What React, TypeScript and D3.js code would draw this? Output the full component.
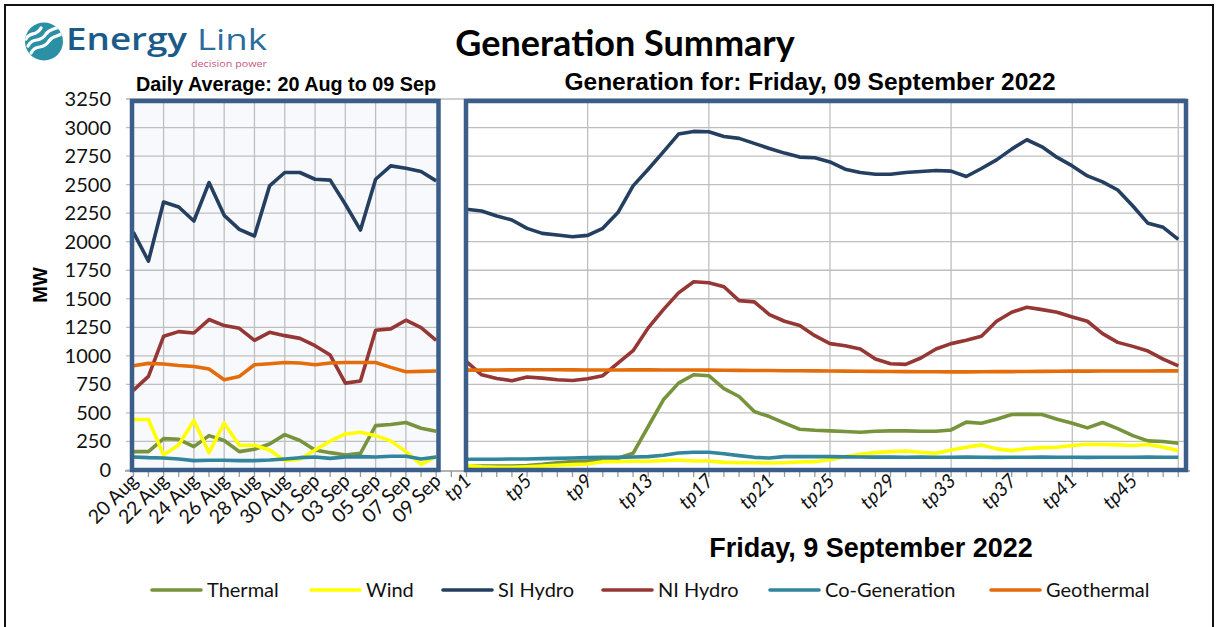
import React from "react";
import * as d3 from "d3";

// daily averages, 20 Aug .. 09 Sep
const days = [
  "20 Aug", "21 Aug", "22 Aug", "23 Aug", "24 Aug", "25 Aug", "26 Aug",
  "27 Aug", "28 Aug", "29 Aug", "30 Aug", "31 Aug", "01 Sep", "02 Sep",
  "03 Sep", "04 Sep", "05 Sep", "06 Sep", "07 Sep", "08 Sep", "09 Sep",
];
const periods = Array.from({ length: 48 }, (_, i) => `tp${i + 1}`);
const categories = [...days, "gap", ...periods];

const yTicks = [0, 250, 500, 750, 1000, 1250, 1500, 1750, 2000, 2250, 2500, 2750, 3000, 3250];

const dailyThermal = [161, 161, 275, 269, 205, 301, 258, 161, 182, 228, 310, 258, 176, 152, 132, 146, 389, 398, 416, 366, 340];
const dailyWind = [442, 442, 132, 220, 433, 152, 410, 217, 217, 176, 82, 94, 176, 252, 316, 331, 301, 255, 161, 50, 117];
const dailySIHydro = [2084, 1830, 2348, 2304, 2181, 2518, 2231, 2108, 2050, 2489, 2606, 2606, 2547, 2539, 2328, 2102, 2547, 2664, 2644, 2615, 2533];
const dailyNIHydro = [697, 820, 1171, 1212, 1200, 1318, 1265, 1241, 1136, 1206, 1177, 1153, 1089, 1007, 761, 779, 1224, 1236, 1312, 1247, 1136];
const dailyCoGen = [114, 108, 105, 97, 82, 85, 85, 82, 82, 88, 97, 108, 114, 102, 114, 117, 114, 120, 120, 97, 114];
const dailyGeothermal = [913, 934, 928, 916, 907, 884, 790, 820, 922, 931, 942, 937, 922, 937, 942, 942, 942, 899, 861, 864, 867];

// trading periods, Friday 9 Sep
const tpThermal = [35, 35, 35, 35, 40, 50, 64, 73, 79, 88, 103, 146, 381, 615, 761, 834, 826, 712, 644, 512, 468, 410, 357, 348, 343, 337, 331, 340, 343, 343, 340, 340, 351, 419, 410, 445, 486, 489, 486, 445, 410, 369, 416, 363, 301, 255, 249, 234];
const tpWind = [38, 29, 23, 23, 29, 35, 41, 47, 53, 73, 73, 76, 76, 82, 88, 79, 79, 67, 64, 64, 61, 64, 70, 73, 90, 117, 138, 152, 161, 167, 155, 146, 176, 199, 220, 185, 170, 188, 196, 199, 214, 226, 223, 220, 214, 223, 199, 170];
const tpSIHydro = [2284, 2269, 2225, 2190, 2117, 2073, 2058, 2044, 2055, 2117, 2255, 2489, 2635, 2787, 2943, 2966, 2963, 2922, 2905, 2861, 2817, 2776, 2741, 2735, 2699, 2635, 2606, 2591, 2591, 2606, 2615, 2624, 2618, 2571, 2641, 2717, 2811, 2893, 2831, 2738, 2664, 2576, 2524, 2453, 2313, 2161, 2126, 2020];
const tpNIHydro = [950, 834, 802, 782, 814, 805, 790, 784, 799, 826, 937, 1045, 1245, 1405, 1552, 1649, 1640, 1605, 1484, 1473, 1362, 1303, 1265, 1177, 1107, 1089, 1060, 972, 931, 925, 981, 1060, 1107, 1136, 1171, 1303, 1382, 1426, 1405, 1382, 1341, 1303, 1195, 1118, 1083, 1042, 972, 913];
const tpCoGen = [94, 94, 94, 97, 97, 100, 102, 105, 108, 111, 111, 114, 117, 129, 149, 155, 155, 143, 126, 111, 105, 117, 117, 117, 117, 115, 114, 113, 113, 112, 113, 112, 112, 113, 112, 111, 112, 112, 113, 112, 112, 111, 112, 112, 112, 113, 112, 112];
const tpGeothermal = [875, 875, 876, 877, 878, 878, 878, 877, 876, 876, 876, 877, 877, 876, 876, 876, 875, 874, 873, 872, 871, 870, 869, 868, 867, 866, 865, 864, 863, 862, 861, 861, 860, 860, 861, 862, 862, 863, 864, 865, 866, 866, 867, 867, 867, 867, 868, 868];

const series = [
  { name: "Thermal", color: "#77933c", daily: dailyThermal, tp: tpThermal },
  { name: "Wind", color: "#ffff00", daily: dailyWind, tp: tpWind },
  { name: "SI Hydro", color: "#243f60", daily: dailySIHydro, tp: tpSIHydro },
  { name: "NI Hydro", color: "#953735", daily: dailyNIHydro, tp: tpNIHydro },
  { name: "Co-Generation", color: "#31859c", daily: dailyCoGen, tp: tpCoGen },
  { name: "Geothermal", color: "#e46c0a", daily: dailyGeothermal, tp: tpGeothermal },
];

const legendX = [152, 311, 443, 603, 770, 991];

const width = 1219;
const height = 627;
const panelBorder = "#3b5d89";
const gridColor = "#bfbfbf";
const calibri = "Lato, 'DejaVu Sans', sans-serif";
const arial = "'Liberation Sans', Arial, sans-serif";

const x = d3.scalePoint<string>().domain(categories).range([133.3, 1178.3]);
const y = d3.scaleLinear().domain([0, 3250]).range([470, 99]);

const leftPanel = { x0: 132, x1: 438.5 };
const rightPanel = { x0: 466, x1: 1186 };

const dailyLine = d3
  .line<number>()
  .x((_, i) => x(days[i]) as number)
  .y((d) => y(d));
const tpLine = d3
  .line<number>()
  .x((_, i) => x(periods[i]) as number)
  .y((d) => y(d));

const leftGridDays = days.filter((_, i) => i % 2 === 0 && i > 0 && i < 20);
const rightGridTps = ["tp9", "tp17", "tp25", "tp33", "tp41", "tp48"];
const dayLabels = days.filter((_, i) => i % 2 === 0);
const tpLabels = periods.filter((_, i) => i % 4 === 0);

const Logo = () => (
  <g>
    <defs>
      <clipPath id="logoClip">
        <circle cx={44} cy={41.5} r={19} />
      </clipPath>
    </defs>
    <circle cx={44} cy={41.5} r={19} fill="#2b8fa6" />
    <g clipPath="url(#logoClip)" fill="none" stroke="white" strokeWidth={3.2} strokeLinecap="round">
      <path d="M28,46 C33,36 40,44 46,34 C50,28 55,30 58,27" />
      <path d="M31,53 C36,43 43,51 49,41 C53,35 58,37 61,34" />
      <path d="M26,39 C30,31 36,37 41,28" />
    </g>
    <text x={66} y={50} fontFamily="'Open Sans', sans-serif" fontWeight={600} fontSize={30} fill="#1c5a8a" textLength={121} lengthAdjust="spacingAndGlyphs">
      Energy
    </text>
    <text x={197} y={50} fontFamily="'Open Sans', sans-serif" fontWeight={400} fontSize={30} fill="#2b6d9c" textLength={70} lengthAdjust="spacingAndGlyphs">
      Link
    </text>
    <text x={191} y={67} fontFamily="'Open Sans', sans-serif" fontSize={9} fill="#c4577b" textLength={76} lengthAdjust="spacingAndGlyphs">
      decision power
    </text>
  </g>
);

const App = () => {
  return (
    <svg
      width={width}
      height={height}
      style={{ position: "absolute", left: 0, top: 0, background: "white" }}
    >
      <rect x={5} y={5} width={1208} height={650} fill="white" stroke="#111" strokeWidth={2} />

      <Logo />

      <text x={625} y={56} textAnchor="middle" fontFamily={calibri} fontWeight={700} fontSize={36}>
        Generation Summary
      </text>
      <text x={286} y={91} textAnchor="middle" fontFamily={arial} fontWeight={700} fontSize={19.8}>
        Daily Average: 20 Aug to 09 Sep
      </text>
      <text x={810} y={90} textAnchor="middle" fontFamily={arial} fontWeight={700} fontSize={24.5}>
        Generation for: Friday, 09 September 2022
      </text>

      {/* panel backgrounds */}
      <rect x={leftPanel.x0} y={101} width={leftPanel.x1 - leftPanel.x0} height={369} fill="#f8f9fc" />
      <rect x={rightPanel.x0} y={101} width={rightPanel.x1 - rightPanel.x0} height={369} fill="white" />

      {/* horizontal grid */}
      <line x1={126} x2={rightPanel.x1} y1={y(3250)} y2={y(3250)} stroke={gridColor} strokeWidth={1.3} />
      {yTicks.map((t) => (
        <g key={t}>
          <line x1={126} x2={leftPanel.x0} y1={y(t)} y2={y(t)} stroke={gridColor} strokeWidth={1.3} />
          <line x1={leftPanel.x0} x2={leftPanel.x1} y1={y(t)} y2={y(t)} stroke={gridColor} strokeWidth={1.3} />
          <line x1={rightPanel.x0} x2={rightPanel.x1} y1={y(t)} y2={y(t)} stroke={gridColor} strokeWidth={1.3} />
          <text x={111} y={y(t)} dy="0.35em" textAnchor="end" fontFamily={calibri} fontSize={20} fill="#111">
            {t}
          </text>
        </g>
      ))}

      {/* vertical grid */}
      {leftGridDays.map((d) => (
        <line key={d} x1={x(d)} x2={x(d)} y1={101} y2={470} stroke={gridColor} strokeWidth={1.3} />
      ))}
      {rightGridTps.map((d) => (
        <line key={d} x1={x(d)} x2={x(d)} y1={101} y2={470} stroke={gridColor} strokeWidth={1.3} />
      ))}

      {/* category axis */}
      <line x1={125} x2={1190} y1={471} y2={471} stroke="#999" strokeWidth={1.3} />
      {categories.map((c) => (
        <line key={c} x1={x(c)} x2={x(c)} y1={471} y2={477} stroke="#999" strokeWidth={1.3} />
      ))}

      {/* series */}
      {series.map((s) => (
        <g key={s.name} fill="none" stroke={s.color} strokeWidth={3.6} strokeLinejoin="round">
          <path d={dailyLine(s.daily) as string} />
          <path d={tpLine(s.tp) as string} />
        </g>
      ))}

      {/* panel borders */}
      <rect x={leftPanel.x0} y={101} width={leftPanel.x1 - leftPanel.x0} height={369} fill="none" stroke={panelBorder} strokeWidth={4.5} />
      <rect x={rightPanel.x0} y={101} width={rightPanel.x1 - rightPanel.x0} height={369} fill="none" stroke={panelBorder} strokeWidth={4.5} />

      {/* x labels */}
      {dayLabels.map((d) => (
        <text
          key={d}
          transform={`translate(${(x(d) as number) + 6},${482}) rotate(-45)`}
          textAnchor="end"
          fontFamily={calibri}
          fontSize={19.5}
          fill="#111"
        >
          {d}
        </text>
      ))}
      {tpLabels.map((d) => (
        <text
          key={d}
          transform={`translate(${(x(d) as number) + 6},${482}) rotate(-45)`}
          textAnchor="end"
          fontFamily={calibri}
          fontStyle="italic"
          fontSize={19.5}
          fill="#111"
        >
          {d}
        </text>
      ))}

      <text transform="translate(47,285) rotate(-90)" textAnchor="middle" fontFamily={arial} fontWeight={700} fontSize={20}>
        MW
      </text>
      <text x={871} y={557} textAnchor="middle" fontFamily={arial} fontWeight={700} fontSize={27}>
        Friday, 9 September 2022
      </text>

      {/* legend */}
      {series.map((s, i) => (
        <g key={s.name}>
          <line x1={legendX[i]} x2={legendX[i] + 49} y1={590} y2={590} stroke={s.color} strokeWidth={3.6} strokeLinecap="round" />
          <text x={legendX[i] + 55} y={597} fontFamily={calibri} fontSize={20} fill="#111">
            {s.name}
          </text>
        </g>
      ))}
    </svg>
  );
};

export default App;
